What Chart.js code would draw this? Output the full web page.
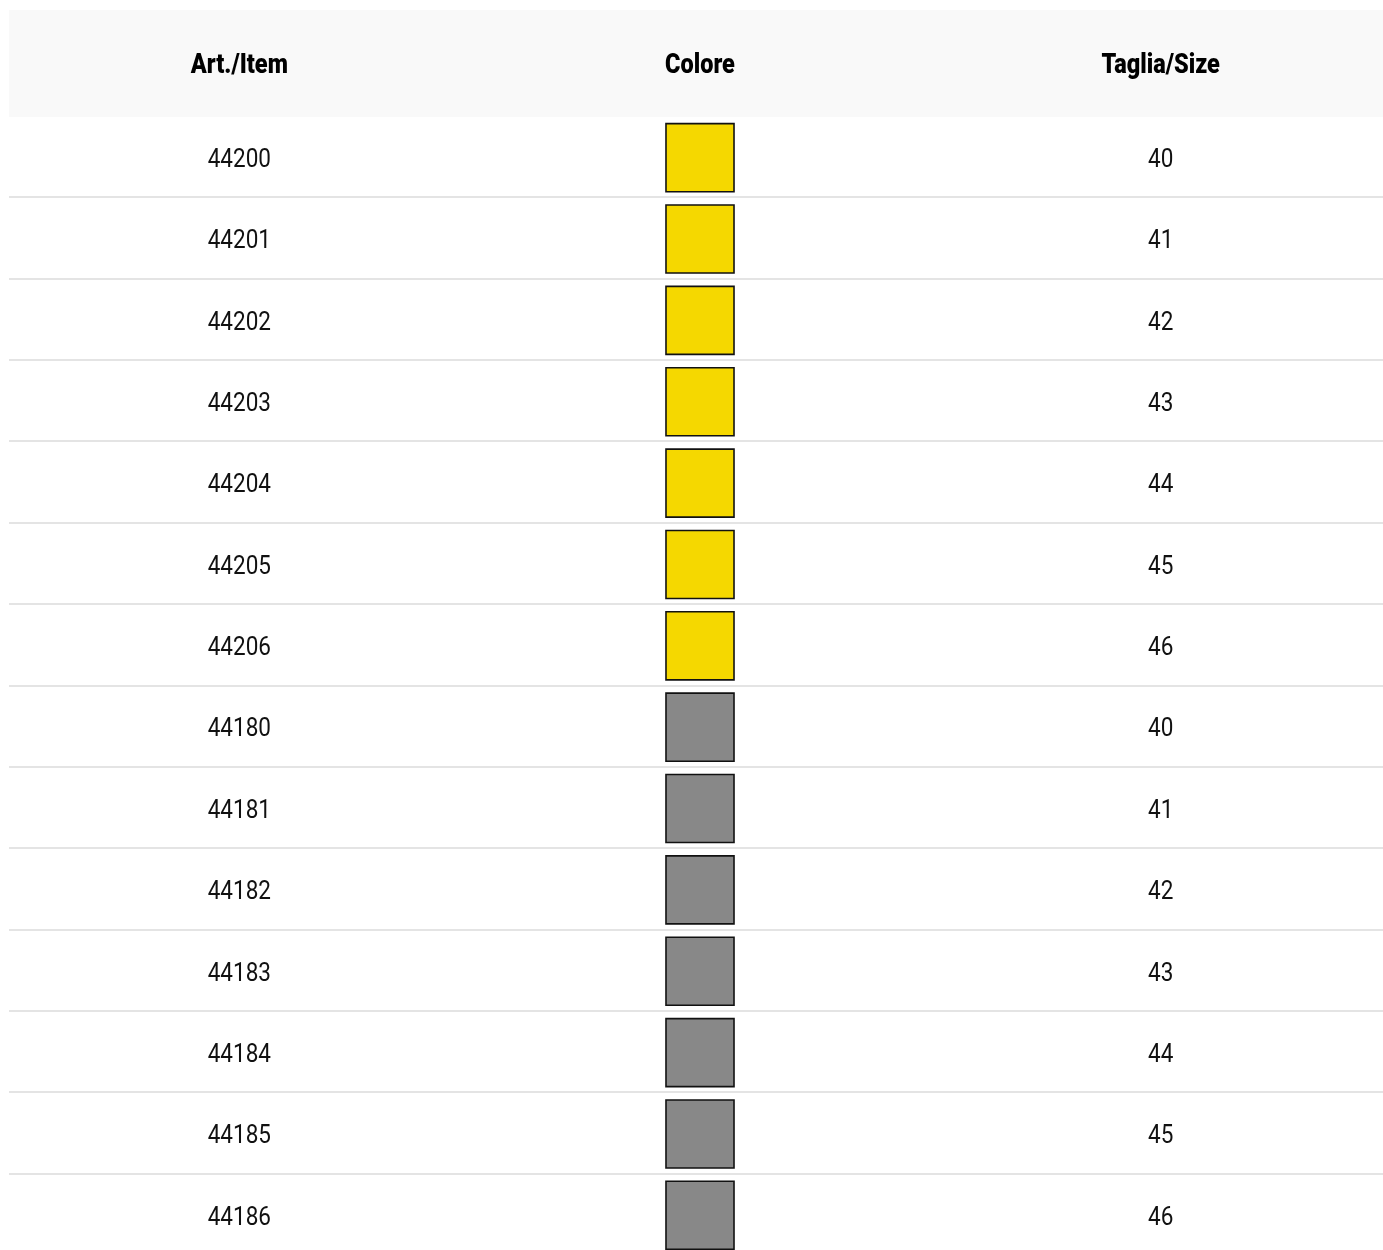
<!DOCTYPE html>
<html>
<head>
<meta charset="utf-8">
<script src="https://cdn.jsdelivr.net/npm/chart.js@4/dist/chart.umd.min.js"></script>
<style>
    html, body { margin: 0; padding: 0; background: #ffffff; overflow: hidden; }
    #wrap { position: relative; width: 1391px; height: 1256px; }
</style>
</head>
<body>
<div id="wrap"><canvas id="tableChart"></canvas></div>
<script>
var headers = ['Art./Item', 'Colore', 'Taglia/Size'];
var items = ['44200', '44201', '44202', '44203', '44204', '44205', '44206',
             '44180', '44181', '44182', '44183', '44184', '44185', '44186'];
var colours = ['#f5d800', '#f5d800', '#f5d800', '#f5d800', '#f5d800', '#f5d800', '#f5d800',
               '#888888', '#888888', '#888888', '#888888', '#888888', '#888888', '#888888'];
var sizes = ['40', '41', '42', '43', '44', '45', '46',
             '40', '41', '42', '43', '44', '45', '46'];

var bodyFont = '25px Roboto, "Liberation Sans", sans-serif';
var headFont = '900 27px Roboto, "Liberation Sans", sans-serif';

// condensed look: squeeze text horizontally around its centre
function narrowText(ctx, txt, x, y, sx) {
    ctx.save();
    ctx.translate(x, y);
    ctx.scale(sx, 1);
    ctx.fillText(txt, 0, 0);
    ctx.restore();
}

// header band, row lines and cell texts, all placed with the chart scales
var tablePlugin = {
    id: 'tableCells',
    beforeDatasetsDraw: function(chart) {
        var ctx = chart.ctx;
        var area = chart.chartArea;
        var x = chart.scales.x;
        var y = chart.scales.y;

        ctx.save();
        // header background
        ctx.fillStyle = '#f9f9f9';
        ctx.fillRect(area.left, 10, chart.width - area.left, area.top - 10);

        // row separators
        ctx.fillStyle = '#e4e4e4';
        for (var i = 0; i < items.length - 1; i++) {
            var yy = (y.getPixelForValue(i) + y.getPixelForValue(i + 1)) / 2;
            ctx.fillRect(area.left, Math.round(yy) - 2, chart.width - area.left, 2);
        }

        ctx.textAlign = 'center';
        ctx.textBaseline = 'middle';

        // header labels
        ctx.fillStyle = '#000000';
        ctx.font = headFont;
        headers.forEach(function(h, i) {
            narrowText(ctx, h, x.getPixelForValue(i), (10 + area.top) / 2 + 3, 0.87);
        });

        // body texts
        ctx.font = bodyFont;
        ctx.fillStyle = '#111111';
        items.forEach(function(it, i) {
            var yy = y.getPixelForValue(i) + 3;
            narrowText(ctx, it, x.getPixelForValue(0), yy, 0.9);
            narrowText(ctx, sizes[i], x.getPixelForValue(2), yy, 0.9);
        });
        ctx.restore();
    }
};

var chart = new Chart(document.getElementById('tableChart'), {
    type: 'scatter',
    data: {
        datasets: [{
            data: items.map(function(it) { return { x: 'Colore', y: it }; }),
            pointStyle: 'rect',
            pointRadius: 48.1,
            pointHoverRadius: 48.1,
            backgroundColor: colours,
            borderColor: '#111111',
            borderWidth: 1.6
        }]
    },
    options: {
        responsive: true,
        maintainAspectRatio: false,
        animation: false,
        events: [],
        layout: {
            autoPadding: false,
            padding: { left: 9, top: 117, right: 0, bottom: 0 }
        },
        plugins: {
            legend: { display: false },
            tooltip: { enabled: false }
        },
        scales: {
            x: { type: 'category', labels: headers, offset: true, display: false },
            y: { type: 'category', labels: items, offset: true, display: false }
        }
    },
    plugins: [tablePlugin]
});
</script>
</body>
</html>
